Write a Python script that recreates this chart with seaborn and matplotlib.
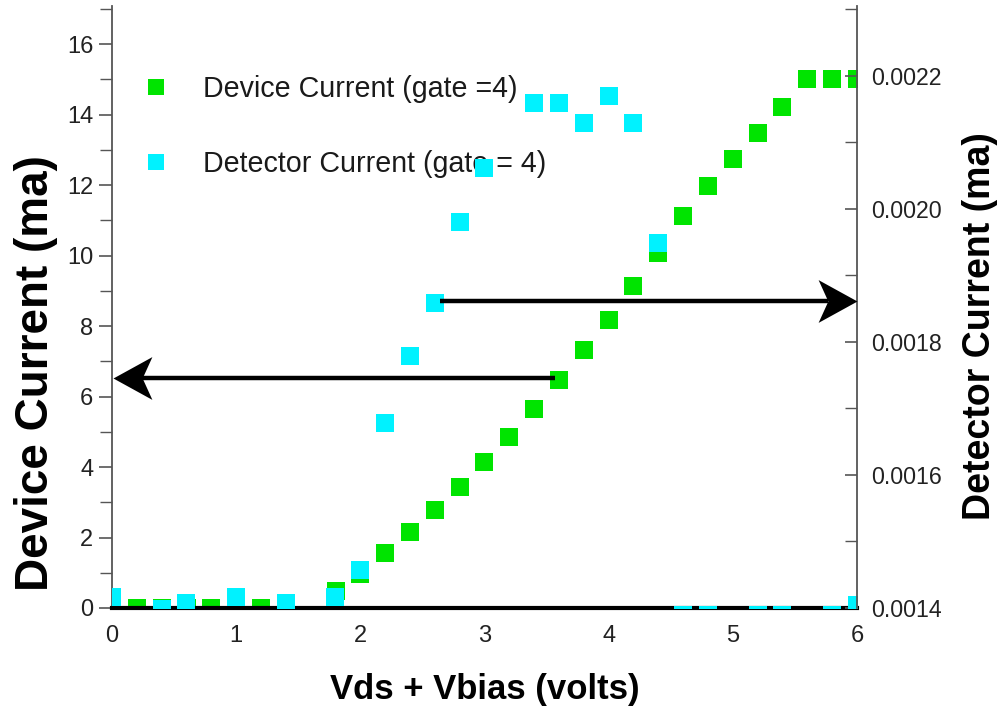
import numpy as np
import pandas as pd
import matplotlib
matplotlib.use("Agg")
import matplotlib.pyplot as plt
import seaborn as sns
from matplotlib.lines import Line2D
from matplotlib.path import Path
from matplotlib.ticker import MultipleLocator, FormatStrFormatter

# Sweep voltage (Vds + Vbias), volts
vds = [0.0, 0.2, 0.4, 0.6, 0.8, 1.0, 1.2, 1.4, 1.6, 1.8, 2.0,
       2.2, 2.4, 2.6, 2.8, 3.0, 3.2, 3.4, 3.6, 3.8, 4.0,
       4.2, 4.4, 4.6, 4.8, 5.0, 5.2, 5.4, 5.6, 5.8, 6.0]

# Device current (ma), left axis
device_current = [0.0, 0.0, 0.0, 0.0, 0.0, 0.0, 0.0, 0.0, np.nan, 0.47, 0.96,
                  1.56, 2.16, 2.78, 3.43, 4.14, 4.85, 5.65, 6.47, 7.32, 8.17,
                  9.13, 10.07, 11.12, 11.97, 12.74, 13.48, 14.21, 15.0, 15.0, 15.0]

# Detector current (ma), right axis
detector_current = [0.001417, np.nan, 0.001398, 0.001408, np.nan, 0.001417, np.nan,
                    0.001408, np.nan, 0.001417, 0.001457,
                    0.001678, 0.001779, 0.001859, 0.00198, 0.002062, np.nan,
                    0.002159, 0.002159, 0.002129, 0.00217,
                    0.002129, 0.001948, 0.00139, 0.00139, np.nan, 0.00139,
                    0.00139, np.nan, 0.00139, 0.001405]

device_label = "Device Current (gate =4)"
detector_label = "Detector Current (gate = 4)"

GREEN = "#00e400"
CYAN = "#00f2ff"
SPINE = "#555555"

sns.set_theme(style="white")
plt.rcParams["font.family"] = ["Liberation Sans", "DejaVu Sans"]

df = pd.DataFrame({"vds": vds, "device": device_current, "detector": detector_current})

fig = plt.figure(figsize=(10.06, 7.07), dpi=100)
ax = fig.add_axes([112 / 1006, 99 / 707, 745 / 1006, 602 / 707])
ax2 = ax.twinx()

sns.scatterplot(data=df, x="vds", y="device", ax=ax, marker="s", s=150,
                color=GREEN, linewidth=0, legend=False)
sns.scatterplot(data=df, x="vds", y="detector", ax=ax2, marker="s", s=150,
                color=CYAN, linewidth=0, legend=False)

# Axis ranges
ax.set_xlim(0, 6)
ax.set_ylim(0, 17.08)
ax2.set_ylim(0.0014, 0.002305)

# Spines
for a in (ax, ax2):
    a.spines["top"].set_visible(False)
ax.spines["right"].set_visible(False)
ax2.spines["left"].set_visible(False)
ax2.spines["bottom"].set_visible(False)
ax.spines["left"].set_color(SPINE)
ax.spines["left"].set_linewidth(1.3)
ax.spines["bottom"].set_color("black")
ax.spines["bottom"].set_linewidth(3)
ax2.spines["right"].set_color(SPINE)
ax2.spines["right"].set_linewidth(1.3)

# Ticks
ax.xaxis.set_major_locator(MultipleLocator(1))
ax.xaxis.set_minor_locator(MultipleLocator(0.5))
ax.yaxis.set_major_locator(MultipleLocator(2))
ax.yaxis.set_minor_locator(MultipleLocator(1))
ax2.yaxis.set_major_locator(MultipleLocator(0.0002))
ax2.yaxis.set_minor_locator(MultipleLocator(0.0001))
ax2.yaxis.set_major_formatter(FormatStrFormatter("%.4f"))

ax.tick_params(axis="x", which="major", direction="out", length=8, width=1.2,
               color="#333333", labelsize=17, pad=4, labelcolor="#222222")
ax.tick_params(axis="x", which="minor", direction="inout", length=6, width=1.0,
               color="#333333")
ax.tick_params(axis="y", which="major", direction="out", length=9.5, width=1.2,
               color=SPINE, labelsize=17, pad=4, labelcolor="#222222")
ax.tick_params(axis="y", which="minor", direction="out", length=8.5, width=1.0,
               color=SPINE)
ax2.tick_params(axis="y", which="major", direction="in", length=9, width=1.2,
                color=SPINE, labelsize=16.7, pad=10, labelcolor="#222222")
ax2.tick_params(axis="y", which="minor", direction="in", length=9, width=1.0,
                color=SPINE)

# Axis titles
ax.set_xlabel("Vds + Vbias (volts)", fontsize=25, fontweight="bold", color="black")
ax.xaxis.set_label_coords(0.5, -0.108)
ax.xaxis.label.set_va("top")
ax.set_ylabel("Device Current (ma)", fontsize=33, fontweight="bold", color="black")
ax.yaxis.set_label_coords(-0.0725, 0.391)
ax2.set_ylabel("Detector Current (ma)", fontsize=27, fontweight="bold", color="black")
ax2.yaxis.set_label_coords(1.141, 0.469)

# Arrows pointing each series to its axis: a shaft plus a concave (stealth) head
def stealth_head(pointing_right):
    s = 1.0 if pointing_right else -1.0
    verts = [(0, 0), (-s * 1.0, 0.55), (-s * 0.75, 0), (-s * 1.0, -0.55), (0, 0)]
    codes = [Path.MOVETO, Path.LINETO, Path.LINETO, Path.LINETO, Path.CLOSEPOLY]
    return Path(verts, codes)

HEAD = 56      # marker size in points; the head spans half of it
NOTCH = 0.75   # shaft ends at the notch of the head

def draw_arrow(axis, x_from, x_to, y):
    right = x_to > x_from
    # shaft end: back off from the tip by the notch depth, in pixels
    tip_px = axis.transData.transform((x_to, y))
    back_px = HEAD * 0.5 * NOTCH * fig.dpi / 72.0
    end_px = (tip_px[0] - back_px if right else tip_px[0] + back_px, tip_px[1])
    x_end = axis.transData.inverted().transform(end_px)[0]
    axis.plot([x_from, x_end], [y, y], color="black", lw=3.2,
              solid_capstyle="butt", clip_on=False, zorder=5)
    axis.plot([x_to], [y], linestyle="none", marker=stealth_head(right),
              markersize=HEAD, color="black", markeredgewidth=0,
              clip_on=False, zorder=6)

fig.canvas.draw()
draw_arrow(ax, 3.57, 0.01, 6.52)
draw_arrow(ax2, 2.64, 6.0, 0.001862)

# Legend
handles = [
    Line2D([], [], linestyle="none", marker="s", markersize=11,
           markerfacecolor=GREEN, markeredgewidth=0),
    Line2D([], [], linestyle="none", marker="s", markersize=11,
           markerfacecolor=CYAN, markeredgewidth=0),
]
ax.legend(handles, [device_label, detector_label], loc="upper left",
          bbox_to_anchor=(0.040, 0.885), frameon=False, fontsize=20.6,
          handlelength=0.97, handletextpad=1.17, labelspacing=1.62,
          borderaxespad=0, borderpad=0, labelcolor="#1a1a1a")

fig.savefig("out.png", dpi=100)
